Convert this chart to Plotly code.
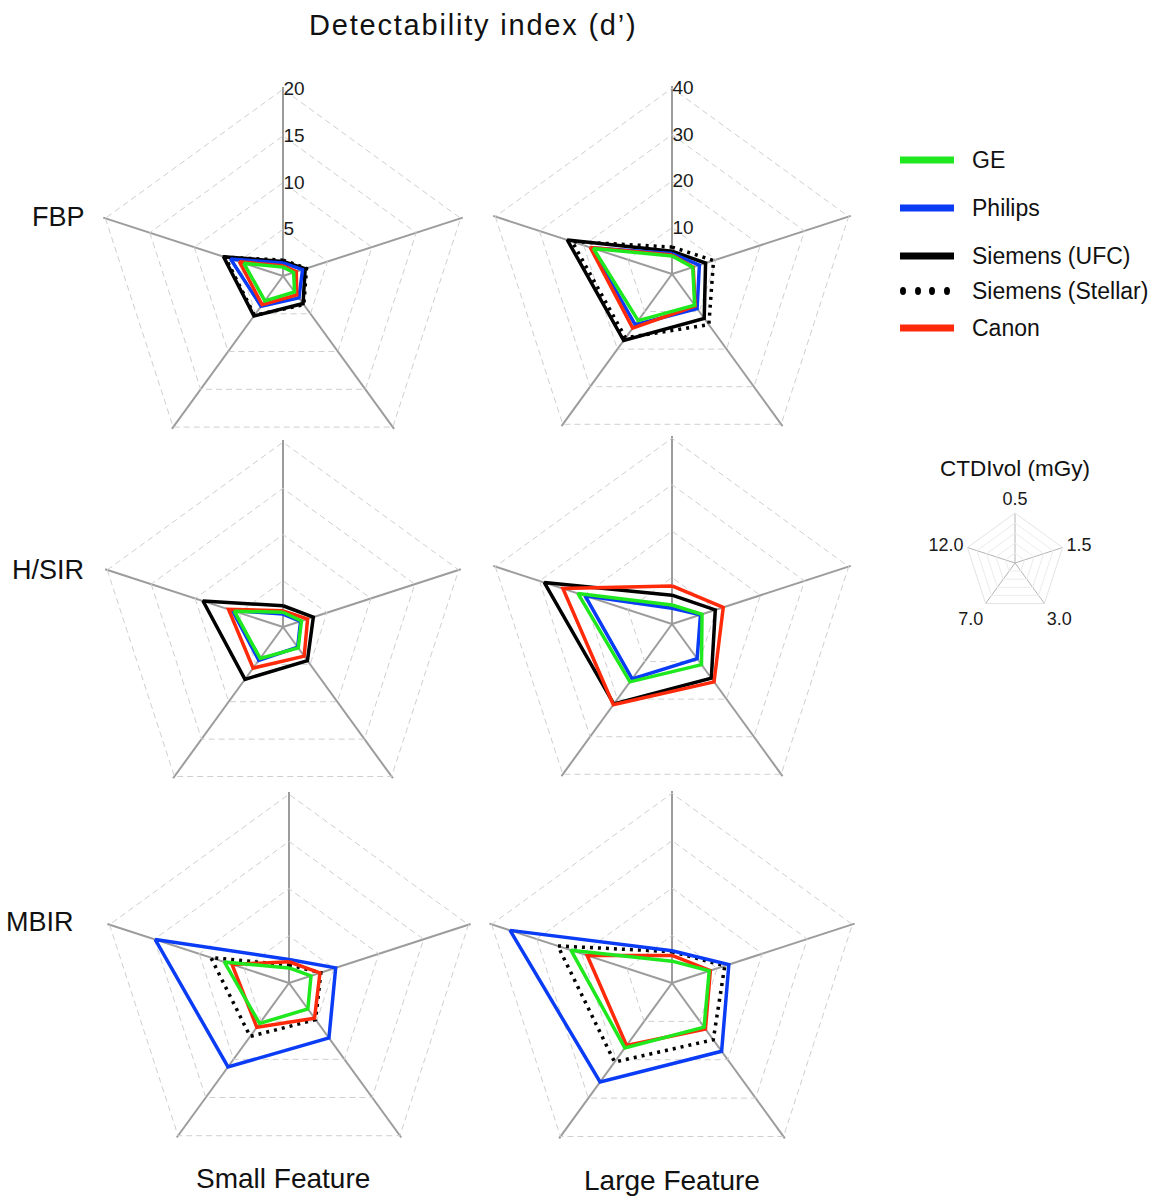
import plotly.graph_objects as go

W, H = 1158, 1197
FONT = "Liberation Sans"

# CTDIvol levels (mGy), clockwise from the top spoke
dose_labels = ["0.5", "1.5", "3.0", "7.0", "12.0"]
vendors = ["GE", "Philips", "Siemens (UFC)", "Siemens (Stellar)", "Canon"]

# Detectability index d' per vendor, one value per dose level above
fbp_small = {
    "GE": [0.95, 1.2, 2.1, 3.3, 4.4],
    "Philips": [1.4, 2.2, 2.9, 4.0, 5.9],
    "Siemens (UFC)": [1.55, 2.5, 3.65, 5.3, 6.7],
    "Siemens (Stellar)": [1.7, 2.65, 3.8, 5.2, 6.5],
    "Canon": [1.1, 1.5, 2.5, 3.8, 4.9],
}
fbp_large = {
    "GE": [3.9, 4.7, 8.3, 12.4, 17.8],
    "Philips": [4.4, 6.2, 9.2, 13.5, 18.3],
    "Siemens (UFC)": [4.9, 7.6, 11.8, 17.7, 23.7],
    "Siemens (Stellar)": [5.8, 9.4, 13.5, 17.0, 22.6],
    "Canon": [4.1, 4.8, 8.5, 14.4, 18.5],
}
sir_small = {
    "GE": [1.6, 2.1, 2.8, 4.2, 5.55],
    "Philips": [1.4, 2.0, 2.7, 4.45, 5.75],
    "Siemens (UFC)": [2.3, 3.45, 4.5, 7.0, 9.1],
    "Canon": [1.75, 2.8, 3.9, 5.5, 6.2],
}
sir_large = {
    "GE": [4.1, 6.8, 10.8, 15.4, 21.3],
    "Philips": [3.4, 6.45, 9.2, 14.6, 19.7],
    "Siemens (UFC)": [6.2, 9.8, 14.4, 21.3, 28.9],
    "Canon": [8.2, 11.6, 15.4, 21.5, 24.7],
}
mbir_small = {
    "GE": [1.6, 2.45, 3.4, 5.3, 7.2],
    "Philips": [2.5, 5.2, 7.2, 11.0, 14.9],
    "Siemens (Stellar)": [1.9, 3.55, 4.8, 7.0, 8.7],
    "Canon": [2.25, 3.45, 4.6, 5.8, 6.35],
}
mbir_large = {
    "GE": [4.6, 8.25, 11.5, 16.9, 22.4],
    "Philips": [6.8, 12.6, 17.8, 25.8, 35.9],
    "Siemens (Stellar)": [6.6, 11.7, 14.8, 20.6, 25.3],
    "Canon": [5.8, 8.5, 12.0, 16.3, 18.8],
}

small_ticks = [5, 10, 15, 20]
large_ticks = [10, 20, 30, 40]

colors = {
    "GE": "#1fe81f",
    "Philips": "#0a3cf5",
    "Siemens (UFC)": "#000000",
    "Siemens (Stellar)": "#000000",
    "Canon": "#ff2a0a",
}
dashes = {
    "GE": "solid",
    "Philips": "solid",
    "Siemens (UFC)": "solid",
    "Siemens (Stellar)": "3px,5px",
    "Canon": "solid",
}


def px_x(x):
    return x / W


def px_y(y):
    return 1 - y / H


def domain(cx, cy, r):
    return dict(x=[px_x(cx - r), px_x(cx + r)], y=[px_y(cy + r), px_y(cy - r)])


# (data, subplot id, centre x, centre y, radius, ticks, show tick labels)
panels = [
    (fbp_small, "polar", 283, 276, 189, small_ticks, True),
    (fbp_large, "polar2", 672, 274, 188, large_ticks, True),
    (sir_small, "polar3", 283, 627, 187, small_ticks, False),
    (sir_large, "polar4", 672, 624, 188, large_ticks, False),
    (mbir_small, "polar5", 289, 983, 191, small_ticks, False),
    (mbir_large, "polar6", 672, 983, 192, large_ticks, False),
]

fig = go.Figure()
layout = dict(
    width=W,
    height=H,
    margin=dict(l=0, r=0, t=0, b=0),
    paper_bgcolor="white",
    plot_bgcolor="white",
    showlegend=False,
    font=dict(family=FONT, color="#111111"),
)

draw_order = ["Siemens (UFC)", "Siemens (Stellar)", "Philips", "Canon", "GE"]

for data, sid, cx, cy, r, ticks, show in panels:
    for v in draw_order:
        if v not in data:
            continue
        vals = data[v]
        fig.add_trace(go.Scatterpolar(
            r=vals + vals[:1],
            theta=dose_labels + dose_labels[:1],
            mode="lines",
            line=dict(color=colors[v], width=3.5, dash=dashes[v]),
            name=v,
            subplot=sid,
            hoverinfo="skip",
        ))
    layout[sid] = dict(
        domain=domain(cx, cy, r),
        bgcolor="rgba(0,0,0,0)",
        gridshape="linear",
        angularaxis=dict(
            type="category",
            categoryorder="array",
            categoryarray=dose_labels,
            direction="clockwise",
            rotation=90,
            showticklabels=False,
            ticks="",
            showline=False,
            showgrid=True,
            gridcolor="#9c9c9c",
            gridwidth=1.6,
        ),
        radialaxis=dict(
            range=[0, ticks[-1] * 1.012],
            tickvals=ticks,
            ticktext=[str(t) for t in ticks],
            showticklabels=show,
            ticks="",
            showline=False,
            showgrid=True,
            gridcolor="#cfcfcf",
            gridwidth=1.4,
            griddash="6px,4px",
            angle=90,
            tickangle=90,
            side="clockwise",
            tickfont=dict(size=19, color="#1a1a1a", family=FONT),
        ),
    )

# key radar showing the dose level on each spoke
fig.add_trace(go.Scatterpolar(
    r=[0] * len(dose_labels),
    theta=dose_labels,
    mode="lines",
    line=dict(width=0),
    subplot="polar7",
    hoverinfo="skip",
))
layout["polar7"] = dict(
    domain=domain(1015, 563, 50),
    bgcolor="rgba(0,0,0,0)",
    gridshape="linear",
    angularaxis=dict(
        type="category",
        categoryorder="array",
        categoryarray=dose_labels,
        direction="clockwise",
        rotation=90,
        showticklabels=True,
        ticks="",
        showline=True,
        linecolor="#e4e4e4",
        linewidth=1,
        gridcolor="#b5b5b5",
        gridwidth=1,
        tickfont=dict(size=18, color="#1a1a1a", family=FONT),
    ),
    radialaxis=dict(
        range=[0, 1],
        tickvals=[0.2, 0.4, 0.6, 0.8],
        showticklabels=False,
        ticks="",
        showline=False,
        gridcolor="#ececec",
        gridwidth=1,
    ),
)

annotations = []


def text(x, y, s, size, anchor="center"):
    annotations.append(dict(
        x=px_x(x), y=px_y(y), xref="paper", yref="paper",
        text=s, showarrow=False, xanchor=anchor, yanchor="middle",
        font=dict(size=size, family=FONT, color="#111111"),
    ))


text(473, 25, "<span style='letter-spacing:1.8px'>Detectability index (d’)</span>", 29)
text(58, 217, "FBP", 27)
text(48, 570, "H/SIR", 27)
text(40, 922, "MBIR", 27)
text(283, 1178, "Small Feature", 28)
text(672, 1180, "Large Feature", 28)
text(1015, 468, "CTDIvol (mGy)", 22.5)

# legend drawn as line samples with labels
shapes = []
legend_rows = [("GE", 160), ("Philips", 208), ("Siemens (UFC)", 256),
               ("Siemens (Stellar)", 291), ("Canon", 328)]
for v, y in legend_rows:
    if v == "Siemens (Stellar)":
        for xd in [903, 918, 932, 947]:
            shapes.append(dict(
                type="circle", xref="paper", yref="paper",
                x0=px_x(xd - 3), x1=px_x(xd + 3),
                y0=px_y(y + 4), y1=px_y(y - 4),
                fillcolor="#000000", line=dict(width=0),
            ))
    else:
        shapes.append(dict(
            type="line", xref="paper", yref="paper",
            x0=px_x(900), x1=px_x(954), y0=px_y(y), y1=px_y(y),
            line=dict(color=colors[v], width=7),
        ))
    text(970, y, v, 23, anchor="left")

layout["annotations"] = annotations
layout["shapes"] = shapes
fig.update_layout(**layout)
fig.write_html("out.html")
